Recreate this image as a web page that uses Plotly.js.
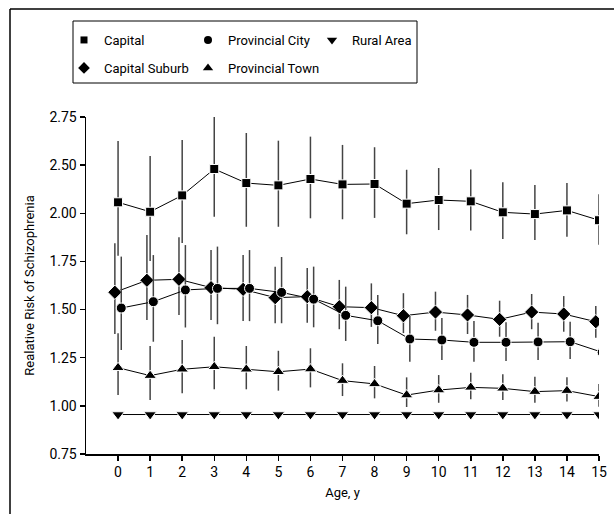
<!DOCTYPE html>
<html>
<head>
<meta charset="utf-8">
<script src="https://cdn.plot.ly/plotly-3.0.1.min.js"></script>
<style>
html, body { margin: 0; padding: 0; background: #fff; }
#chart { width: 614px; height: 514px; }
</style>
</head>
<body>
<div id="chart"></div>
<script>
const ages = [0, 1, 2, 3, 4, 5, 6, 7, 8, 9, 10, 11, 12, 13, 14, 15];
const xTickText = ['0','1','2','3','4','5','6','7','8','9','10','11','12','13','14','15'];
const yTickVals = [0.75, 1.00, 1.25, 1.50, 1.75, 2.00, 2.25, 2.50];
const yTickText = ['0.75', '1.00', '1.25', '1.50', '1.75', '2.00', '2.50', '2.75'];

const capital      = [2.057, 2.008, 2.093, 2.230, 2.157, 2.145, 2.178, 2.150, 2.152, 2.050, 2.069, 2.062, 2.005, 1.996, 2.015, 1.964];
const capitalHi    = [2.375, 2.297, 2.381, 2.510, 2.417, 2.377, 2.398, 2.355, 2.343, 2.226, 2.235, 2.228, 2.161, 2.147, 2.157, 2.099];
const capitalLo    = [1.780, 1.752, 1.846, 1.982, 1.930, 1.930, 1.974, 1.969, 1.976, 1.891, 1.913, 1.910, 1.866, 1.861, 1.878, 1.837];

const suburb       = [1.590, 1.652, 1.657, 1.614, 1.605, 1.562, 1.567, 1.515, 1.510, 1.468, 1.487, 1.472, 1.449, 1.487, 1.477, 1.437];
const suburbHi     = [1.844, 1.887, 1.875, 1.809, 1.783, 1.723, 1.716, 1.654, 1.636, 1.585, 1.593, 1.576, 1.546, 1.581, 1.570, 1.519];
const suburbLo     = [1.373, 1.446, 1.472, 1.446, 1.441, 1.429, 1.432, 1.398, 1.410, 1.378, 1.390, 1.373, 1.359, 1.398, 1.385, 1.354];

const provCity     = [1.508, 1.541, 1.602, 1.610, 1.610, 1.589, 1.554, 1.470, 1.442, 1.347, 1.342, 1.330, 1.330, 1.332, 1.333, 1.278];
const provCityHi   = [1.775, 1.783, 1.835, 1.827, 1.809, 1.773, 1.723, 1.619, 1.576, 1.467, 1.456, 1.441, 1.434, 1.432, 1.437, 1.368];
const provCityLo   = [1.290, 1.333, 1.407, 1.424, 1.440, 1.429, 1.408, 1.337, 1.321, 1.229, 1.238, 1.229, 1.233, 1.238, 1.243, 1.191];

const provTown     = [1.198, 1.157, 1.190, 1.203, 1.190, 1.177, 1.191, 1.131, 1.114, 1.056, 1.082, 1.096, 1.091, 1.074, 1.079, 1.048];
const provTownHi   = [1.377, 1.311, 1.342, 1.359, 1.311, 1.286, 1.299, 1.221, 1.207, 1.148, 1.160, 1.172, 1.164, 1.151, 1.148, 1.114];
const provTownLo   = [1.056, 1.030, 1.065, 1.086, 1.086, 1.079, 1.096, 1.051, 1.039, 0.994, 1.016, 1.034, 1.030, 1.016, 1.022, 0.996];

const rural        = [0.955, 0.955, 0.955, 0.955, 0.955, 0.955, 0.955, 0.955, 0.955, 0.955, 0.955, 0.955, 0.955, 0.955, 0.955, 0.955];

const FONT = 'Roboto, Liberation Sans, Arial, sans-serif';
const BAR = '#444';

function errY(y, hi, lo) {
  return {
    type: 'data', symmetric: false,
    array: hi ? hi.map((v, i) => v - y[i]) : null,
    arrayminus: lo ? lo.map((v, i) => y[i] - v) : null,
    color: BAR, thickness: 1.5, width: 0, visible: !!hi
  };
}

function series(name, xs, y, hi, lo, symbol, size) {
  return {
    type: 'scatter', mode: 'lines+markers', name: name, showlegend: false,
    x: xs, y: y,
    line: { color: '#000', width: 1 },
    marker: { symbol: symbol, size: size, color: '#000', line: { color: '#fff', width: 1 } },
    error_y: errY(y, hi, lo)
  };
}

function legendItem(name, symbol, size, legend, color) {
  return {
    type: 'scatter', mode: 'markers', name: name, legend: legend,
    x: [null], y: [null], showlegend: true,
    marker: { symbol: symbol, size: size, color: color || '#000', line: { width: 0 } }
  };
}

const shiftL = ages.map(a => a - 0.1);
const shiftR = ages.map(a => a + 0.1);

const data = [
  series('Rural Area', ages, rural, null, null, 'triangle-down', 11),
  series('Provincial Town', ages, provTown, provTownHi, provTownLo, 'triangle-up', 11),
  series('Capital Suburb', shiftL, suburb, suburbHi, suburbLo, 'diamond', 11),
  series('Provincial City', shiftR, provCity, provCityHi, provCityLo, 'circle', 10),
  series('Capital', ages, capital, capitalHi, capitalLo, 'square', 9),
  legendItem('Capital', 'square', 7, 'legend'),
  legendItem('Provincial City', 'circle', 8, 'legend'),
  legendItem('Rural Area', 'triangle-down', 9, 'legend'),
  legendItem('Capital Suburb', 'diamond', 9, 'legend2'),
  legendItem('Provincial Town', 'triangle-up', 9, 'legend2'),
  legendItem(' ', 'circle', 1, 'legend2', 'rgba(0,0,0,0)')
];

const W = 513, H = 337;
const px = v => (v - 86) / W;
const py = v => (454 - v) / H;

const legendCommon = {
  orientation: 'h', xanchor: 'left', yanchor: 'middle',
  font: { family: FONT, size: 13, color: '#000' },
  bgcolor: 'rgba(0,0,0,0)', borderwidth: 0,
  itemwidth: 30, entrywidth: 79, traceorder: 'normal',
  itemclick: false, itemdoubleclick: false
};

const layout = {
  width: 614, height: 514,
  margin: { l: 86, r: 15, t: 117, b: 60 },
  paper_bgcolor: '#fff', plot_bgcolor: '#fff',
  font: { family: FONT, size: 13, color: '#000' },
  showlegend: true,
  legend: Object.assign({}, legendCommon, { x: px(64), y: py(40) }),
  legend2: Object.assign({}, legendCommon, { x: px(64), y: py(68) }),
  xaxis: {
    range: [-1, 15], tickvals: ages, ticktext: xTickText,
    showgrid: false, zeroline: false, showline: true, linecolor: '#000', linewidth: 1.5,
    ticks: 'outside', ticklen: 5, tickwidth: 1.5, tickcolor: '#000',
    tickfont: { family: FONT, size: 14, color: '#000' },
    title: { text: 'Age, y', font: { family: FONT, size: 13, color: '#000' }, standoff: 8 }
  },
  yaxis: {
    range: [0.75, 2.50], tickvals: yTickVals, ticktext: yTickText,
    showgrid: false, zeroline: false, showline: true, linecolor: '#000', linewidth: 1.5,
    ticks: 'outside', ticklen: 5, tickwidth: 1.5, tickcolor: '#000',
    tickfont: { family: FONT, size: 14, color: '#000' },
    title: { text: 'Realative Risk of Schizophrenia', font: { family: FONT, size: 13, color: '#000' }, standoff: 12 }
  },
  shapes: [
    { type: 'rect', xref: 'paper', yref: 'paper', x0: px(73), x1: px(417), y0: py(83), y1: py(21),
      line: { color: '#000', width: 1 }, fillcolor: 'rgba(0,0,0,0)' },
    { type: 'line', xref: 'paper', yref: 'paper', x0: px(10), x1: px(10), y0: py(520), y1: py(9),
      line: { color: '#000', width: 1.5 } },
    { type: 'line', xref: 'paper', yref: 'paper', x0: px(10), x1: px(620), y0: py(9), y1: py(9),
      line: { color: '#000', width: 1.5 } }
  ]
};

Plotly.newPlot('chart', data, layout, { displayModeBar: false, staticPlot: true });
</script>
</body>
</html>
